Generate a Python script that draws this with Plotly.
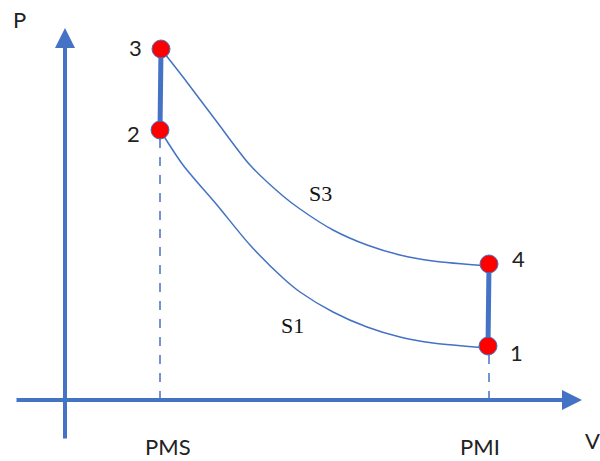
import plotly.graph_objects as go

BLUE = "#4472C4"

# cycle points (V, P), P measured above the V axis
point_names = ["1", "2", "3", "4"]
point_v = [423, 95, 96, 424]
point_p = [54, 270, 351, 136]

# compression curve S1 (2 -> 1)
s1_v = [95, 118, 152, 185, 218, 235, 268, 302, 335, 368, 423]
s1_p = [270, 235, 195, 155, 122, 108, 88, 73, 63, 57, 52]

# expansion curve S3 (3 -> 4)
s3_v = [96, 118, 152, 185, 218, 235, 268, 302, 335, 368, 424]
s3_p = [351, 323, 278, 235, 204, 191, 170, 155, 145, 139, 134]

v_pms = 95
v_pmi = 424

fig = go.Figure()

# curves
fig.add_trace(go.Scatter(x=s1_v, y=s1_p, mode="lines",
                         line=dict(color=BLUE, width=1.5, shape="spline", smoothing=0.8),
                         hoverinfo="skip"))
fig.add_trace(go.Scatter(x=s3_v, y=s3_p, mode="lines",
                         line=dict(color=BLUE, width=1.5, shape="spline", smoothing=0.8),
                         hoverinfo="skip"))

# isochoric thick segments 2-3 and 1-4
fig.add_trace(go.Scatter(x=[point_v[1], point_v[2]], y=[point_p[1], point_p[2]], mode="lines",
                         line=dict(color=BLUE, width=5), hoverinfo="skip"))
fig.add_trace(go.Scatter(x=[point_v[0], point_v[3]], y=[point_p[0], point_p[3]], mode="lines",
                         line=dict(color=BLUE, width=5), hoverinfo="skip"))

# dashed guide lines down to the V axis
fig.add_trace(go.Scatter(x=[v_pms, v_pms], y=[0, point_p[1]], mode="lines",
                         line=dict(color=BLUE, width=1.5, dash="dash"), hoverinfo="skip"))
fig.add_trace(go.Scatter(x=[v_pmi, v_pmi], y=[0, point_p[0]], mode="lines",
                         line=dict(color=BLUE, width=1.5, dash="dash"), hoverinfo="skip"))

# points
fig.add_trace(go.Scatter(x=point_v, y=point_p, mode="markers",
                         marker=dict(size=18, color="red", line=dict(color=BLUE, width=1)),
                         hoverinfo="skip"))

# axes as arrows
fig.add_annotation(x=0, y=372, ax=0, ay=-40, xref="x", yref="y", axref="x", ayref="y",
                   showarrow=True, arrowhead=2, arrowsize=1, arrowwidth=4, arrowcolor=BLUE, text="")
fig.add_annotation(x=517, y=0, ax=-50, ay=0, xref="x", yref="y", axref="x", ayref="y",
                   showarrow=True, arrowhead=2, arrowsize=1, arrowwidth=4, arrowcolor=BLUE, text="")

sans = dict(family="Lato, Open Sans, sans-serif", size=22, color="#222222")
serif = dict(family="Liberation Serif, serif", size=22, color="#111111")

labels = [
    ("P", -46, 381, sans),
    ("V", 527, -40, sans),
    ("PMS", 103, -46, sans),
    ("PMI", 415, -46, sans),
    ("3", 70, 353, sans),
    ("2", 68, 267, sans),
    ("4", 453, 142, sans),
    ("1", 451, 48, sans),
    ("S3", 255, 207, serif),
    ("S1", 227, 75, serif),
]
for txt, x, y, f in labels:
    fig.add_annotation(x=x, y=y, text=txt, showarrow=False, font=f, xref="x", yref="y")

fig.update_xaxes(range=[-65, 535], visible=False)
fig.update_yaxes(range=[-61, 400], visible=False)
fig.update_layout(width=600, height=461, margin=dict(l=0, r=0, t=0, b=0),
                  plot_bgcolor="white", paper_bgcolor="white", showlegend=False)

fig.write_html("out.html", config={"displayModeBar": False},
               post_script="document.body.style.margin='0';")
